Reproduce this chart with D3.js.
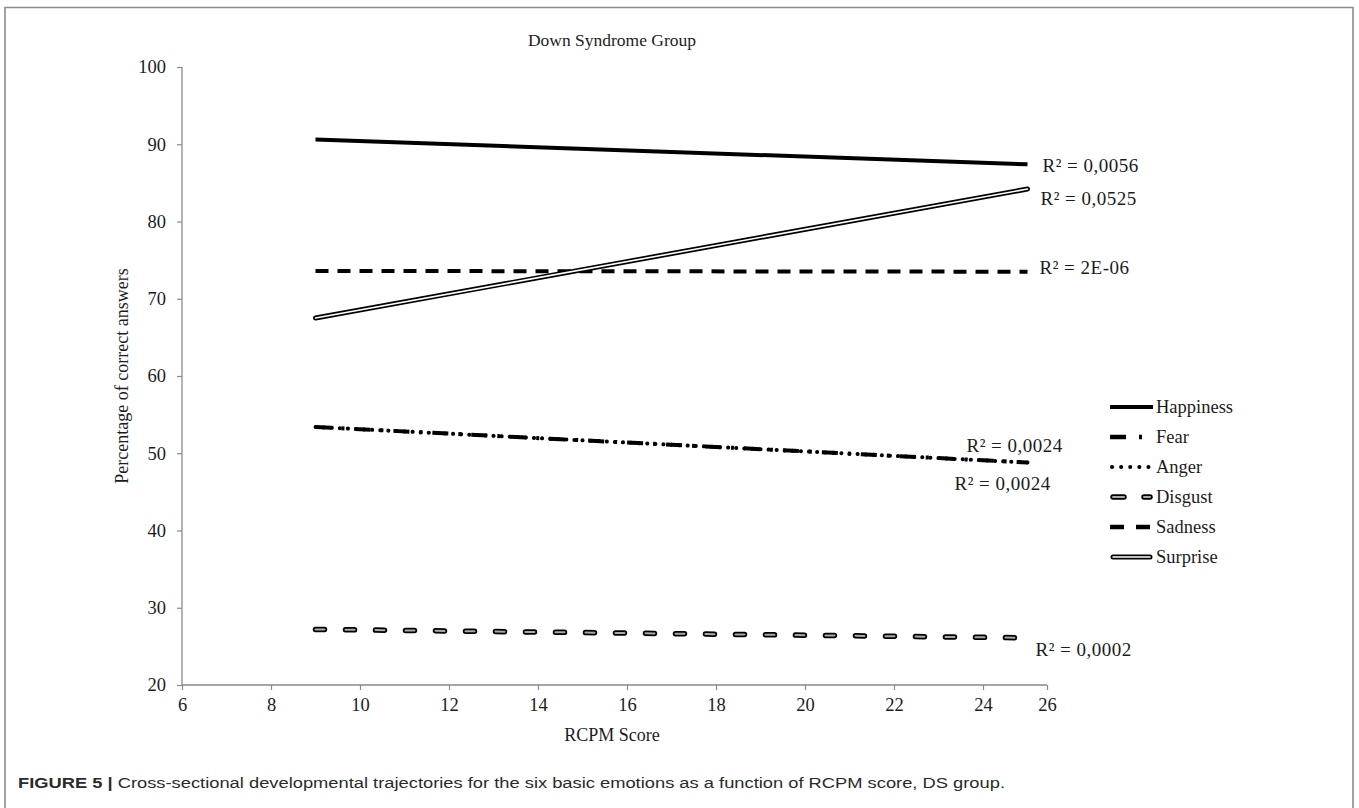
<!DOCTYPE html>
<html>
<head>
<meta charset="utf-8">
<script src="https://cdn.jsdelivr.net/npm/d3@7"></script>
<style>
  html, body { margin: 0; padding: 0; background: #fff; }
  svg { display: block; }
  .axis text { font-family: 'Liberation Serif', 'Times New Roman', serif !important; font-size: 18.5px !important; }
</style>
</head>
<body>
<svg id="chart" width="1359" height="808"></svg>
<script>
// ---------- data ----------
const xStartEnd = [9, 25];                       // RCPM score range of the trend lines
const seriesNames = ["Happiness", "Fear", "Anger", "Disgust", "Sadness", "Surprise"];
const happiness = [90.6, 87.4];
const fear      = [53.4, 48.8];
const anger     = [53.4, 48.8];
const disgust   = [27.2, 26.1];
const sadness   = [73.6, 73.5];
const surprise  = [67.5, 84.2];
const r2Labels  = ["R² = 0,0056", "R² = 0,0024", "R² = 0,0024", "R² = 0,0002", "R² = 2E-06", "R² = 0,0525"];
const xTicks = [6, 8, 10, 12, 14, 16, 18, 20, 22, 24, 26];
const yTicks = [20, 30, 40, 50, 60, 70, 80, 90, 100];

const seriesValues = [happiness, fear, anger, disgust, sadness, surprise];

// ---------- setup ----------
const svg = d3.select("#chart");
const serif = "'Liberation Serif', 'Times New Roman', serif";
const axisColor = "#8a8a8a";
const textColor = "#1c1c1c";

// outer frame
svg.append("path")
  .attr("d", "M5,812 L5,7.5 L1353,7.5 L1353,812")
  .attr("fill", "none").attr("stroke", "#8c8c8c").attr("stroke-width", 1.6);

const x = d3.scaleLinear().domain([6, 25, 26]).range([182, 1027.5, 1047]);
const y = d3.scaleLinear().domain([20, 100]).range([685, 67]);

// axes
const xAxis = svg.append("g").attr("class", "axis").attr("transform", `translate(0,${y(20)})`)
  .call(d3.axisBottom(x).tickValues(xTicks).tickSize(5).tickPadding(8).tickFormat(d3.format("d")));
const yAxis = svg.append("g").attr("class", "axis").attr("transform", `translate(${x(6)},0)`)
  .call(d3.axisLeft(y).tickValues(yTicks).tickSize(5).tickPadding(11).tickFormat(d3.format("d")));
[xAxis, yAxis].forEach(g => {
  g.attr("font-family", serif).attr("font-size", 18.5);
  g.select(".domain").attr("stroke", axisColor).attr("stroke-width", 1.3);
  g.selectAll(".tick line").attr("stroke", axisColor).attr("stroke-width", 1.2);
  g.selectAll(".tick text").attr("fill", textColor);
});
xAxis.select(".domain").attr("d", `M${x(6)},0H${x(26)}`);
yAxis.select(".domain").attr("d", `M0,${y(100)}V${y(20)}`);

// title & axis labels
svg.append("text").attr("x", 612).attr("y", 46).attr("text-anchor", "middle")
  .style("font-family", serif).style("font-size", "17.5px").attr("fill", textColor)
  .text("Down Syndrome Group");
svg.append("text").attr("x", 612).attr("y", 741).attr("text-anchor", "middle")
  .style("font-family", serif).style("font-size", "18px").attr("fill", textColor)
  .text("RCPM Score");
svg.append("text").attr("transform", `translate(128,${(y(20) + y(100)) / 2}) rotate(-90)`)
  .attr("text-anchor", "middle")
  .style("font-family", serif).style("font-size", "18px").attr("fill", textColor)
  .text("Percentage of correct answers");

// ---------- line styles ----------
const styles = {
  Happiness: [{ stroke: "#000", width: 4, dash: null, cap: "butt" }],
  Fear:      [{ stroke: "#000", width: 4, dash: "16 10 3 10", cap: "butt" }],
  Anger:     [{ stroke: "#000", width: 4, dash: "0.1 8", cap: "round" }],
  Disgust:   [{ stroke: "#000", width: 5.5, dash: "9 21", cap: "round" },
              { stroke: "#a9a9a9", width: 2, dash: "9 21", cap: "round" }],
  Sadness:   [{ stroke: "#000", width: 4, dash: "13 9", cap: "butt" }],
  Surprise:  [{ stroke: "#000", width: 5, dash: null, cap: "round" },
              { stroke: "#fff", width: 1.6, dash: null, cap: "round" }]
};

const line = d3.line().x(d => x(d[0])).y(d => y(d[1]));

seriesNames.forEach((name, i) => {
  const pts = xStartEnd.map((xv, j) => [xv, seriesValues[i][j]]);
  styles[name].forEach(s => {
    svg.append("path").datum(pts).attr("d", line)
      .attr("fill", "none").attr("stroke", s.stroke).attr("stroke-width", s.width)
      .attr("stroke-dasharray", s.dash).attr("stroke-linecap", s.cap);
  });
});

// ---------- R² labels ----------
const r2Offsets = [ // [dx from line end, dy from line end]
  [15, 1], [-61, -17], [-73, 21], [8, 12], [12, -4], [13, 9]
];
seriesNames.forEach((name, i) => {
  const ex = x(xStartEnd[1]), ey = y(seriesValues[i][1]);
  svg.append("text").attr("x", ex + r2Offsets[i][0]).attr("y", ey + r2Offsets[i][1])
    .attr("dominant-baseline", "central")
    .style("font-family", serif).style("font-size", "19px").style("letter-spacing", "0.5px")
    .attr("fill", textColor)
    .text(r2Labels[i]);
});

// ---------- legend ----------
const legend = svg.append("g").attr("transform", "translate(1110,407)");
const legendStyles = {
  Happiness: [{ stroke: "#000", width: 4, dash: null, cap: "butt" }],
  Fear:      [{ stroke: "#000", width: 4.5, dash: "16 13 3 100", cap: "butt" }],
  Anger:     [{ stroke: "#000", width: 4, dash: "0.1 9", cap: "round" }],
  Disgust:   [{ stroke: "#000", width: 5.5, dash: "11 20", cap: "round" },
              { stroke: "#a9a9a9", width: 2, dash: "11 20", cap: "round" }],
  Sadness:   [{ stroke: "#000", width: 4.5, dash: "14 12", cap: "butt" }],
  Surprise:  [{ stroke: "#000", width: 5, dash: null, cap: "round" },
              { stroke: "#fff", width: 1.6, dash: null, cap: "round" }]
};
seriesNames.forEach((name, i) => {
  const g = legend.append("g").attr("transform", `translate(0,${i * 30})`);
  const adj = (name === "Disgust" || name === "Surprise") ? 3 : (name === "Anger" ? 2 : 0);
  legendStyles[name].forEach(s => {
    g.append("line").attr("x1", adj).attr("x2", 43 - adj).attr("y1", 0).attr("y2", 0)
      .attr("stroke", s.stroke).attr("stroke-width", s.width)
      .attr("stroke-dasharray", s.dash).attr("stroke-linecap", s.cap);
  });
  g.append("text").attr("x", 46).attr("y", 0).attr("dominant-baseline", "central")
    .style("font-family", serif).style("font-size", "18.5px").attr("fill", textColor)
    .text(name);
});

// ---------- caption ----------
const cap = svg.append("text").attr("x", 18).attr("y", 788)
  .style("font-family", "'Liberation Sans', Arial, sans-serif").style("font-size", "15.5px")
  .attr("fill", "#2a2a2a")
  .attr("textLength", 987).attr("lengthAdjust", "spacingAndGlyphs");
cap.append("tspan").attr("font-weight", "bold").text("FIGURE 5 | ");
cap.append("tspan").text("Cross-sectional developmental trajectories for the six basic emotions as a function of RCPM score, DS group.");
</script>
</body>
</html>
